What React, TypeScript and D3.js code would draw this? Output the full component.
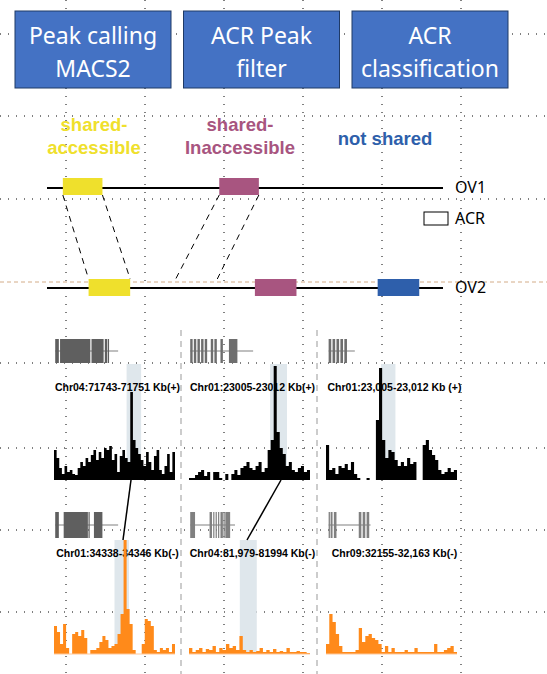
import React from 'react';
import * as d3 from 'd3';

const W = 547;
const H = 674;

const stepTitles = [['Peak calling', 'MACS2'], ['ACR Peak', 'filter'], ['ACR', 'classification']];
const classLabels = [['shared-', 'accessible'], ['shared-', 'Inaccessible'], ['not shared']];
const classColors = ['#efe02c', '#a85580', '#2e5fab'];

// ACR boxes on each haplotype line, in track units 0..100
const ov1Boxes = [{ s: 4, e: 14, c: 0 }, { s: 43.5, e: 53.5, c: 1 }];
const ov2Boxes = [{ s: 10.5, e: 21, c: 0 }, { s: 52.5, e: 63, c: 1 }, { s: 83.5, e: 94, c: 2 }];
// dashed links [ov1 x, ov2 x]
const links = [[4, 10.5], [14, 21], [43.5, 32.5], [53.5, 43]];

const topLabels = ['Chr04:71743-71751 Kb(+)', 'Chr01:23005-23012 Kb(+)', 'Chr01:23,005-23,012 Kb (+)'];
const botLabels = ['Chr01:34338-34346 Kb(-)', 'Chr04:81,979-81994 Kb(-)', 'Chr09:32155-32,163 Kb(-)'];

const topSignal = [
  [30, 22, 12, 6, 14, 8, 10, 6, 5, 12, 18, 14, 22, 18, 25, 30, 20, 28, 22, 32, 30, 34, 20, 26, 8, 24, 30, 22, 18, 88, 40, 32, 26, 20, 14, 28, 18, 10, 24, 30, 10, 6, 14, 26, 8, 28],
  [2, 2, 5, 8, 10, 4, 8, 0, 8, 8, 2, 0, 6, 0, 6, 10, 5, 12, 14, 18, 12, 10, 14, 18, 8, 12, 30, 40, 114, 48, 32, 26, 14, 18, 10, 8, 12, 14, 8, 10],
  [35, 10, 12, 6, 14, 12, 16, 10, 18, 6, 2, 0, 0, 2, 0, 0, 60, 112, 40, 22, 30, 28, 20, 14, 18, 14, 22, 16, 18, 0, 0, 35, 40, 30, 25, 20, 10, 6, 8, 12, 8, 10],
];
const botSignal = [
  [28, 22, 10, 30, 6, 0, 20, 22, 18, 24, 16, 0, 4, 4, 6, 12, 18, 14, 6, 8, 10, 20, 40, 114, 45, 30, 4, 0, 0, 10, 35, 33, 28, 4, 2, 6, 4, 6, 2, 10],
  [6, 2, 4, 6, 2, 5, 4, 8, 2, 6, 4, 10, 6, 8, 4, 18, 4, 2, 4, 2, 3, 6, 2, 4, 2, 5, 2, 3, 2, 6, 2, 2, 3, 2, 2, 1],
  [10, 40, 32, 20, 8, 2, 2, 2, 2, 4, 26, 12, 18, 20, 16, 14, 10, 2, 8, 2, 6, 2, 2, 2, 4, 2, 2, 6, 2, 2, 2, 2, 2, 10, 2, 2, 4, 6, 8, 2],
];
// highlighted ACR windows, in panel units 0..100
const topHl = [[60, 72], [67, 81], [42, 53]];
const botHl: (number[] | null)[] = [[50, 62], [42, 56], null];

// gene models: exons in panel units, intron span
const topGenes = [
  { span: [1, 53], exons: [[1, 4], [5, 30], [31, 41], [42, 44], [44.5, 45.5]] },
  { span: [1, 53], exons: [[1, 3], [4, 6], [7, 9], [10, 12], [13, 15], [18, 20], [21, 23], [26, 28], [33, 40]] },
  { span: [2, 22], exons: [[2, 4], [5, 7], [8, 10], [11, 13], [14, 16]] },
];
const botGenes = [
  { span: [1, 53], exons: [[1, 4], [8, 28], [28.5, 29.5], [33, 40]] },
  { span: [1, 38], exons: [[1, 5], [17, 19], [20, 21], [22, 23], [24, 25], [26, 28], [28.5, 29.5], [30, 34]] },
  { span: [2, 34], exons: [[2, 3], [3.5, 5], [6, 8], [25, 27], [28, 30], [31, 33]] },
];

const panelX = [[54, 175], [189, 310], [326, 457]];
const gridX = [66, 145, 224, 303, 382, 461];
const gridY = [34, 116, 199, 363, 448, 530, 612];

const font = '"Liberation Sans", Arial, sans-serif';

function Track({ vals, x0, x1, base, color, max }: { vals: number[]; x0: number; x1: number; base: number; color: string; max: number }) {
  const x = d3.scaleLinear().domain([0, vals.length]).range([x0, x1]);
  const y = d3.scaleLinear().domain([0, 120]).range([base, base - 120]);
  const area = d3.area<number>().x((_, i) => x(i)).y0(base).y1(d => y(Math.min(d, max))).curve(d3.curveStepAfter);
  return <path d={area([...vals, vals[vals.length - 1]]) || ''} fill={color} />;
}

function Gene({ g, x0, x1, top, h, color }: any) {
  const x = d3.scaleLinear().domain([0, 100]).range([x0, x1]);
  return (
    <g>
      <line x1={x(g.span[0])} x2={x(g.span[1])} y1={top + h / 2} y2={top + h / 2} stroke="#aaa" strokeWidth={1.5} />
      {g.exons.map((e: number[], i: number) => (
        <rect key={i} x={x(e[0])} y={top} width={x(e[1]) - x(e[0])} height={h} fill={color} />
      ))}
    </g>
  );
}

export default function App() {
  const t = d3.scaleLinear().domain([0, 100]).range([47, 443]);
  const ov1 = 188, ov2 = 288;
  return (
    <svg width={W} height={H} style={{ position: 'absolute', left: 0, top: 0, background: '#fff' }} fontFamily={font}>
      {gridX.map(gx => <line key={'gx' + gx} x1={gx} x2={gx} y1={0} y2={H} stroke="#000" strokeDasharray="1 7" />)}
      {gridY.map(gy => <line key={'gy' + gy} x1={0} x2={W} y1={gy} y2={gy} stroke="#000" strokeDasharray="1 7" />)}

      {stepTitles.map((lines, i) => {
        const bx = 15 + i * 168.5;
        return (
          <g key={i}>
            <rect x={bx} y={11} width={156} height={77} fill="#4472c4" stroke="#1f3a66" strokeWidth={1} />
            {lines.map((l, j) => (
              <text key={j} x={bx + 78} y={44 + j * 33} textAnchor="middle" fill="#fff" fontSize={23} fontFamily='"Noto Sans", sans-serif'>{l}</text>
            ))}
          </g>
        );
      })}

      {classLabels.map((lines, i) => (
        <g key={i}>
          {lines.map((l, j) => (
            <text key={j} x={[94, 240, 385][i]} y={(lines.length === 1 ? 145 : 131) + j * 23} textAnchor="middle" fill={classColors[i]} fontSize={18.5} fontWeight="bold">{l}</text>
          ))}
        </g>
      ))}

      <line x1={t(0)} x2={t(100)} y1={ov1} y2={ov1} stroke="#000" strokeWidth={2} />
      <line x1={t(0)} x2={t(100)} y1={ov2} y2={ov2} stroke="#000" strokeWidth={2} />
      <line x1={0} x2={W} y1={282} y2={282} stroke="#c8976a" strokeDasharray="4 3" strokeWidth={0.8} />
      {links.map((l, i) => (
        <line key={i} x1={t(l[0])} x2={t(l[1])} y1={ov1 + 7} y2={ov2 - 9} stroke="#000" strokeDasharray="6 5" />
      ))}
      {ov1Boxes.map((b, i) => <rect key={i} x={t(b.s)} y={ov1 - 10} width={t(b.e) - t(b.s)} height={17} fill={classColors[b.c]} />)}
      {ov2Boxes.map((b, i) => <rect key={i} x={t(b.s)} y={ov2 - 9} width={t(b.e) - t(b.s)} height={17} fill={classColors[b.c]} />)}
      <text x={455} y={193} fontSize={16} fontFamily='"Noto Sans", sans-serif'>OV1</text>
      <text x={455} y={293} fontSize={16} fontFamily='"Noto Sans", sans-serif'>OV2</text>
      <rect x={424} y={212} width={24} height={13} fill="none" stroke="#000" />
      <text x={455} y={224} fontSize={16} fontFamily='"Noto Sans", sans-serif'>ACR</text>

      <line x1={181} x2={181} y1={330} y2={H} stroke="#999" strokeDasharray="6 5" />
      <line x1={317} x2={317} y1={330} y2={H} stroke="#999" strokeDasharray="6 5" />

      {panelX.map(([x0, x1], i) => {
        const px = d3.scaleLinear().domain([0, 100]).range([x0, x1]);
        const bh = botHl[i];
        return (
          <g key={i}>
            <rect x={px(topHl[i][0])} y={364} width={px(topHl[i][1]) - px(topHl[i][0])} height={116} fill="#dfe7ec" />
            {bh && <rect x={px(bh[0])} y={540} width={px(bh[1]) - px(bh[0])} height={114} fill="#dfe7ec" />}
            <Gene g={topGenes[i]} x0={x0} x1={x1} top={339} h={24} color={i === 0 ? '#5f5f5f' : '#6e6e6e'} />
            <Gene g={botGenes[i]} x0={x0} x1={x1} top={512} h={26} color={i === 0 ? '#5f5f5f' : '#808080'} />
            <text x={(x0 + x1) / 2 + 3} y={391} textAnchor="middle" fontSize={10.5} fontWeight="bold">{topLabels[i]}</text>
            <text x={(x0 + x1) / 2 + 3} y={557} textAnchor="middle" fontSize={10.5} fontWeight="bold">{botLabels[i]}</text>
            <Track vals={topSignal[i]} x0={x0} x1={x1} base={480} color="#000" max={120} />
            <Track vals={botSignal[i]} x0={x0} x1={x1} base={654} color="#ff8a1a" max={120} />
            <line x1={x0} x2={x1} y1={654} y2={654} stroke="#ffc89a" />
          </g>
        );
      })}
      <line x1={131} y1={480} x2={123} y2={540} stroke="#000" strokeWidth={1.5} />
      <line x1={281} y1={480} x2={247} y2={540} stroke="#000" strokeWidth={1.5} />
    </svg>
  );
}
